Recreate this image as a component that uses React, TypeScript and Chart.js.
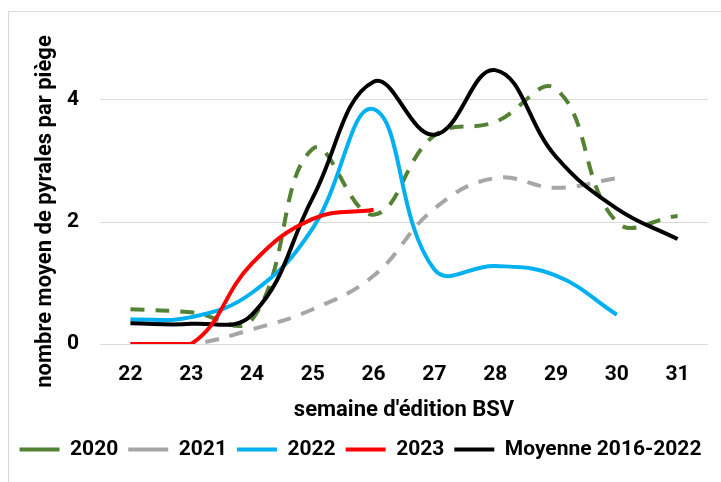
import { useEffect, useRef } from "react";
import { Chart, registerables } from "chart.js";

Chart.register(...registerables);

const weeks = ["22", "23", "24", "25", "26", "27", "28", "29", "30", "31"];
const s2020 = [0.57, 0.52, 0.4, 3.2, 2.12, 3.42, 3.64, 4.18, 2.0, 2.1];
const s2021 = [0, 0, 0.24, 0.57, 1.12, 2.22, 2.72, 2.56, 2.72, null];
const s2022 = [0.4, 0.44, 0.84, 1.9, 3.85, 1.22, 1.28, 1.12, 0.48, null];
const s2023 = [0, 0, 1.32, 2.05, 2.2, null, null, null, null, null];
const mean = [0.34, 0.33, 0.48, 2.4, 4.3, 3.43, 4.49, 3.07, 2.22, 1.72];
const yTickValues = [0, 2, 4];

const FONT = "Roboto";

const yTitlePlugin = {
  id: "yTitlePlugin",
  afterDraw(chart: any) {
    const { ctx, chartArea } = chart;
    ctx.save();
    ctx.translate(chartArea.left - 55, (chartArea.top + chartArea.bottom) / 2 + 20);
    ctx.rotate(-Math.PI / 2);
    ctx.font = `bold 22px ${FONT}`;
    ctx.fillStyle = "#000";
    ctx.textAlign = "center";
    ctx.textBaseline = "middle";
    ctx.fillText("nombre moyen de pyrales par piège", 0, 0);
    ctx.restore();
  },
};

export default function App() {
  const ref = useRef<HTMLCanvasElement | null>(null);

  useEffect(() => {
    if (!ref.current) return;
    const common = { pointRadius: 0, pointHoverRadius: 0, borderWidth: 4, tension: 0.42, fill: false, spanGaps: false };
    const chart = new Chart(ref.current, {
      type: "line",
      data: {
        labels: weeks,
        datasets: [
          { ...common, label: "2020", data: s2020, borderColor: "#548235", backgroundColor: "#548235", borderDash: [14, 11], order: 4 },
          { ...common, label: "2021", data: s2021, borderColor: "#a6a6a6", backgroundColor: "#a6a6a6", borderDash: [14, 11], order: 3 },
          { ...common, label: "2022", data: s2022, borderColor: "#00b0f0", backgroundColor: "#00b0f0", order: 2 },
          { ...common, label: "2023", data: s2023, borderColor: "#ff0000", backgroundColor: "#ff0000", order: 0 },
          { ...common, label: "Moyenne 2016-2022", data: mean, borderColor: "#000000", backgroundColor: "#000000", order: 1 },
        ] as any,
      },
      options: {
        animation: false,
        responsive: false,
        layout: { padding: { top: 39, right: 0, bottom: 12, left: 0 } },
        plugins: {
          tooltip: { enabled: false },
          legend: {
            position: "bottom",
            align: "center",
            labels: {
              usePointStyle: true,
              pointStyle: "line",
              pointStyleWidth: 40,
              padding: 10,
              color: "#000",
              font: { family: FONT, size: 21, weight: "bold" },
              sort: (a: any, b: any) => a.datasetIndex - b.datasetIndex,
            },
          },
        },
        scales: {
          x: {
            offset: true,
            grid: { display: false, drawTicks: false },
            border: { display: false },
            ticks: { color: "#000", padding: 18, font: { family: FONT, size: 21, weight: "bold" }, maxRotation: 0, autoSkip: false },
            title: {
              display: true,
              text: "semaine d'édition BSV",
              color: "#000",
              font: { family: FONT, size: 22, weight: "bold" },
              padding: { top: 0, bottom: 5 },
            },
            afterFit: (s: any) => { s.height = 85; },
          },
          y: {
            min: 0,
            max: 5,
            grid: { color: "#d9d9d9", lineWidth: 1, drawTicks: false },
            border: { display: false },
            ticks: {
              stepSize: 2,
              includeBounds: false,
              padding: 21,
              color: "#000",
              font: { family: FONT, size: 21, weight: "bold" },
            },
            afterBuildTicks: (s: any) => { s.ticks = yTickValues.map((v) => ({ value: v })); },
            afterFit: (s: any) => { s.width = 100; },
          },
          y2: {
            position: "right",
            display: true,
            grid: { display: false, drawTicks: false },
            border: { display: false },
            ticks: { display: false },
            afterFit: (s: any) => { s.width = 13; },
          },
        },
      } as any,
      plugins: [yTitlePlugin],
    });
    return () => chart.destroy();
  }, []);

  return (
    <div style={{ position: "fixed", left: 0, top: 0, width: 721, height: 482, background: "#fff", overflow: "hidden" }}>
      <div style={{ position: "absolute", left: 8, top: 11, width: 800, height: 600, border: "1px solid #d9d9d9", boxSizing: "border-box" }} />
      <canvas ref={ref} width={721} height={482} style={{ position: "absolute", left: 0, top: 0, width: 721, height: 482 }} />
    </div>
  );
}
